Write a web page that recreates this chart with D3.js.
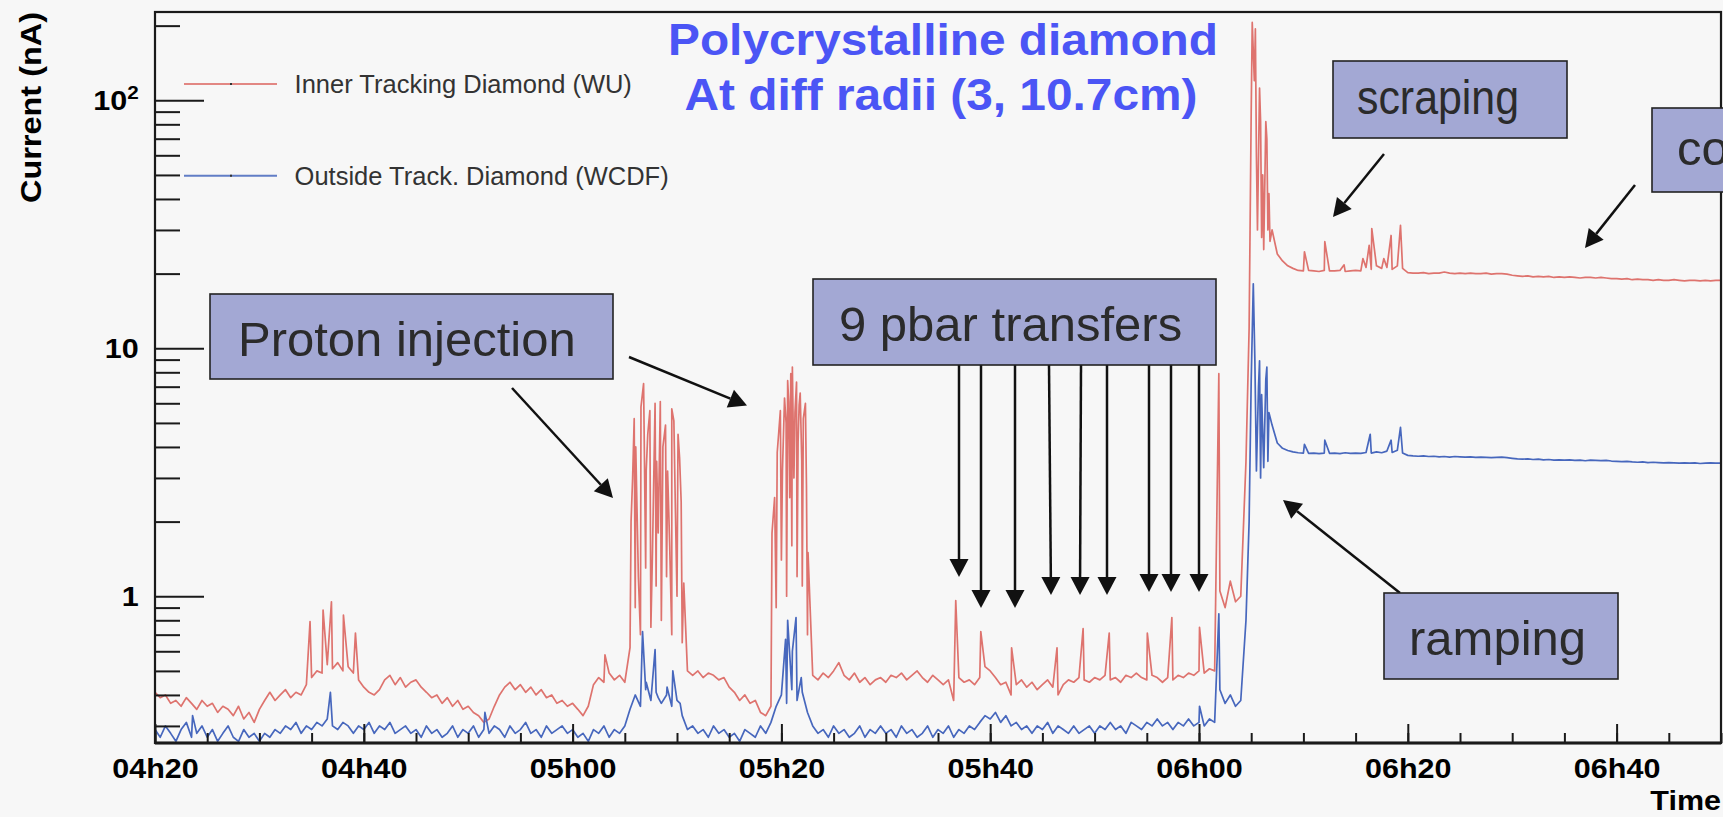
<!DOCTYPE html>
<html>
<head>
<meta charset="utf-8">
<script src="https://cdn.jsdelivr.net/npm/d3@7"></script>
<style>
  html, body { margin: 0; padding: 0; background: #f7f7f7; overflow: hidden; }
  svg { display: block; }
</style>
</head>
<body>
<div id="chart"></div>
<script>
// readings every half minute from 04h20, current in nA
var timeRange = ['04h20', '06h50'];
var timeLabels = ['04h20', '04h40', '05h00', '05h20', '05h40', '06h00', '06h20', '06h40'];
var stepMinutes = 0.5;

var currentRange = [0.256, 227];
var currentTicks = [1, 10, 100];
var currentLabels = ['1', '10', '10^2'];

var seriesNames = ['Inner Tracking Diamond (WU)', 'Outside Track. Diamond (WCDF)'];
var titleLines = ['Polycrystalline diamond', 'At diff radii (3, 10.7cm)'];

var wuLevels = [
  0.41,0.39,0.40,0.37,0.38,0.36,0.39,0.37,0.35,0.38,0.36,0.37,0.34,0.36,0.35,0.33,0.36,0.32,0.34,0.31,
  0.35,0.38,0.41,0.38,0.40,0.42,0.39,0.41,0.40,0.44,0.47,0.50,0.49,0.53,0.51,0.54,0.50,0.52,0.49,0.46,
  0.43,0.41,0.40,0.42,0.46,0.48,0.44,0.47,0.43,0.45,0.46,0.43,0.41,0.39,0.40,0.37,0.39,0.36,0.38,0.35,
  0.36,0.34,0.33,0.31,0.32,0.36,0.40,0.43,0.45,0.42,0.44,0.41,0.43,0.40,0.42,0.39,0.40,0.37,0.38,0.36,
  0.37,0.35,0.33,0.36,0.44,0.47,0.45,0.49,0.46,0.48,0.45,0.62,0.90,0.70,1.30,0.75,1.10,0.80,1.20,0.70,
  1.00,0.65,0.50,0.48,0.50,0.47,0.49,0.48,0.46,0.47,0.43,0.41,0.38,0.40,0.37,0.38,0.34,0.33,0.36,0.90,
  1.40,1.00,1.60,1.20,1.10,0.70,0.48,0.46,0.49,0.47,0.50,0.54,0.48,0.46,0.49,0.45,0.47,0.44,0.46,0.47,
  0.45,0.48,0.47,0.49,0.46,0.48,0.50,0.47,0.45,0.48,0.46,0.44,0.46,0.38,0.47,0.45,0.46,0.44,0.47,0.52,
  0.50,0.47,0.44,0.45,0.40,0.44,0.46,0.43,0.45,0.42,0.44,0.46,0.43,0.40,0.44,0.46,0.45,0.47,0.46,0.45,
  0.47,0.46,0.48,0.46,0.47,0.45,0.48,0.47,0.49,0.47,0.46,0.48,0.47,0.45,0.47,0.46,0.48,0.47,0.49,0.48,
  0.50,0.49,0.51,0.50,1.05,0.90,1.15,0.95,1.00,3.50,90,60,28,70,30,24,22.5,21.5,21.0,20.6,
  20.5,20.6,20.5,20.4,20.6,20.5,20.5,20.6,20.4,20.5,20.6,20.5,21.2,20.8,21.5,21.0,21.2,20.8,21.5,21.0,
  20.2,20.1,20.1,20.2,20.0,20.1,20.1,20.3,20.1,20.0,20.1,20.0,20.1,20.0,20.0,20.1,19.9,20.0,20.0,19.9,
  19.7,19.6,19.5,19.6,19.4,19.5,19.4,19.5,19.3,19.4,19.3,19.4,19.3,19.2,19.3,19.3,19.2,19.3,19.2,19.1,
  19.1,19.0,19.1,18.9,19.0,18.9,18.9,18.8,18.9,18.8,18.8,18.9,18.8,18.7,18.8,18.8,18.7,18.8,18.7,18.8,
  18.8
];

var wcdfLevels = [
  0.29,0.27,0.30,0.28,0.26,0.29,0.31,0.27,0.28,0.30,0.27,0.29,0.26,0.28,0.30,0.27,0.26,0.29,0.27,0.28,
  0.26,0.28,0.27,0.29,0.28,0.30,0.29,0.31,0.28,0.30,0.29,0.31,0.30,0.32,0.30,0.29,0.31,0.30,0.28,0.30,
  0.29,0.31,0.28,0.30,0.29,0.31,0.28,0.29,0.30,0.28,0.29,0.27,0.30,0.28,0.29,0.27,0.28,0.30,0.27,0.29,
  0.28,0.30,0.27,0.29,0.28,0.30,0.29,0.27,0.30,0.28,0.29,0.31,0.28,0.29,0.27,0.30,0.28,0.29,0.30,0.28,
  0.29,0.27,0.28,0.26,0.29,0.28,0.30,0.27,0.29,0.28,0.30,0.35,0.40,0.36,0.42,0.38,0.41,0.37,0.40,0.36,
  0.38,0.33,0.29,0.30,0.28,0.29,0.27,0.30,0.28,0.29,0.27,0.28,0.26,0.29,0.28,0.27,0.30,0.28,0.31,0.36,
  0.40,0.37,0.42,0.38,0.41,0.34,0.30,0.28,0.29,0.27,0.30,0.28,0.29,0.27,0.28,0.30,0.27,0.29,0.28,0.30,
  0.28,0.29,0.27,0.30,0.28,0.29,0.27,0.28,0.30,0.27,0.29,0.28,0.30,0.27,0.29,0.28,0.30,0.29,0.31,0.33,
  0.32,0.34,0.31,0.33,0.30,0.31,0.29,0.30,0.28,0.30,0.29,0.31,0.28,0.30,0.29,0.28,0.30,0.28,0.29,0.30,
  0.28,0.30,0.29,0.31,0.29,0.30,0.28,0.31,0.30,0.29,0.31,0.30,0.32,0.30,0.31,0.29,0.31,0.30,0.32,0.30,
  0.31,0.30,0.32,0.31,0.42,0.37,0.40,0.36,0.38,0.80,7.4,3.2,6.5,8.4,4.9,4.15,3.95,3.87,3.82,3.79,
  3.78,3.77,3.78,3.76,3.78,3.77,3.78,3.76,3.79,3.77,3.78,3.77,3.80,3.78,3.82,3.79,3.85,3.80,3.88,3.78,
  3.70,3.68,3.67,3.68,3.66,3.67,3.65,3.66,3.64,3.66,3.65,3.64,3.65,3.63,3.64,3.63,3.62,3.63,3.64,3.62,
  3.60,3.58,3.57,3.58,3.56,3.57,3.55,3.56,3.54,3.55,3.54,3.55,3.53,3.54,3.52,3.54,3.53,3.52,3.53,3.51,
  3.50,3.49,3.50,3.48,3.47,3.48,3.46,3.47,3.46,3.45,3.46,3.45,3.44,3.45,3.44,3.45,3.43,3.44,3.45,3.44,
  3.44
];

// short spikes between the half-minute readings: [minutes after 04h20, nA]
var wuSpikes = [
  [14.85,0.79],[16.1,0.88],[16.9,0.95],[18.05,0.84],[19.2,0.71],[43.1,0.58],
  [45.6,2.0],[45.75,3.0],[45.9,5.2],[46.05,4.0],[46.3,1.2],[46.55,5.8],[46.8,7.2],[47.05,3.2],[47.2,4.5],
  [47.4,5.6],[47.65,1.5],[47.9,6.0],[48.05,3.5],[48.2,1.8],[48.4,6.1],[48.65,4.0],[48.9,4.9],[49.1,3.2],
  [49.3,1.6],[49.5,5.7],[49.7,5.1],[49.85,2.2],[50.1,4.5],[50.25,3.6],[50.4,2.4],[50.65,1.13],
  [59.1,1.8],[59.35,2.5],[59.6,3.8],[59.75,4.6],[59.9,5.6],[60.1,3.2],[60.3,6.3],[60.45,5.0],[60.6,7.4],
  [60.7,6.1],[60.8,2.5],[60.9,7.9],[61.05,8.4],[61.2,3.0],[61.3,5.5],[61.45,7.3],[61.6,4.2],[61.7,5.9],
  [61.8,6.6],[61.95,3.5],[62.1,5.2],[62.3,6.0],[62.4,2.8],[62.55,1.5],
  [76.7,0.96],[79.1,0.72],[82.05,0.62],[86.4,0.62],[88.9,0.74],[91.4,0.71],[95.05,0.71],[97.4,0.82],[100.05,0.75],
  [101.9,7.9],[104.8,12],[105.1,206],[105.3,120],[105.4,194],[105.6,30],[105.8,112],[105.9,82],[106.1,50],
  [106.2,25],[106.4,82],[106.6,30],[106.7,42],[106.8,27],
  [110.1,24.5],[112.05,26.9],[113.9,21.7],[115.7,23],[116.3,26],[116.55,30.4],[117.7,23],[118.4,28.5],
  [119.3,31.3],[119.4,25.7]
];

var wcdfSpikes = [
  [3.6,0.33],[16.8,0.41],[31.6,0.34],
  [46.7,0.72],[47.05,0.45],[47.9,0.61],[48.2,0.39],[49.05,0.43],[49.6,0.50],[50.3,0.37],
  [60.4,0.67],[60.6,0.80],[61.05,0.60],[61.4,0.82],[61.9,0.47],
  [100.05,0.36],
  [101.9,0.85],[104.8,2.0],[105.2,18.2],[105.35,9.0],[105.7,7.0],[105.8,8.9],[105.9,3.0],[106.2,3.3],
  [106.4,7.5],[106.6,3.5],[106.7,5.5],
  [110.1,4.1],[112.05,4.26],[116.4,4.5],[118.4,4.26],[119.3,4.8]
];

(function(d3) {

  'use strict';

  var parseTime = d3.timeParse('%Hh%M');

  var Chart = function(element) {
    this.element = element;
    this.width = 1723;
    this.height = 817;
    this.plot = { left: 155, right: 1721, top: 12, bottom: 743 };
    this.font = 'Liberation Sans, Arial, Helvetica, sans-serif';
    this.colors = ['#de736e', '#4767bd'];
    this.stretch = 'scale(1.09,1)';
    this.svg = null;
  };

  Chart.prototype = {

    init: function() {
      this.setSvg();
      this.setScales();
      this.drawSeries();
      this.drawAxes();
      this.drawFrame();
      this.drawLegend();
      this.drawTitle();
      this.drawNotes();
    },

    setSvg: function() {
      this.svg = d3.select(this.element)
        .append('svg')
        .attr('width', this.width)
        .attr('height', this.height)
        .style('font-family', this.font);
    },

    setScales: function() {
      this.t0 = parseTime(timeRange[0]);
      this.x = d3.scaleTime()
        .domain([this.t0, parseTime(timeRange[1])])
        .range([this.plot.left, this.plot.right]);
      this.y = d3.scaleLog()
        .domain(currentRange)
        .range([this.plot.bottom, this.plot.top]);
    },

    toDate: function(minutes) {
      return new Date(this.t0.getTime() + minutes * 60000);
    },

    buildSeries: function(levels, spikes) {
      var pts = levels.map(function(v, i) {
        return { t: i * stepMinutes, v: v };
      });
      spikes.forEach(function(s) {
        pts.push({ t: s[0], v: s[1] });
      });
      return pts.sort(function(a, b) { return a.t - b.t; });
    },

    drawSeries: function() {
      var p = this.plot;
      this.svg.append('clipPath').attr('id', 'plot-clip')
        .append('rect')
        .attr('x', p.left).attr('y', p.top)
        .attr('width', p.right - p.left).attr('height', p.bottom - p.top);

      var line = d3.line()
        .x(function(d) { return this.x(this.toDate(d.t)); }.bind(this))
        .y(function(d) { return this.y(Math.max(d.v, 0.2)); }.bind(this));

      var series = [
        this.buildSeries(wuLevels, wuSpikes),
        this.buildSeries(wcdfLevels, wcdfSpikes)
      ];

      this.svg.append('g')
        .attr('clip-path', 'url(#plot-clip)')
        .selectAll('path')
        .data(series)
        .enter()
        .append('path')
        .attr('d', line)
        .attr('fill', 'none')
        .attr('stroke', function(d, i) { return this.colors[i]; }.bind(this))
        .attr('stroke-width', 1.7)
        .attr('stroke-linejoin', 'round');
    },

    drawAxes: function() {
      var p = this.plot;

      var xMinor = d3.axisBottom(this.x)
        .ticks(d3.timeMinute.every(5))
        .tickSizeInner(-10).tickSizeOuter(0)
        .tickFormat('');
      var xMajor = d3.axisBottom(this.x)
        .tickValues(timeLabels.map(parseTime))
        .tickFormat(d3.timeFormat('%Hh%M'))
        .tickSizeInner(-19).tickSizeOuter(0)
        .tickPadding(15);

      [xMinor, xMajor].forEach(function(axis) {
        var g = this.svg.append('g')
          .attr('transform', 'translate(0,' + p.bottom + ')')
          .call(axis);
        this.styleAxis(g);
      }.bind(this));

      var minors = this.y.ticks().filter(function(v) {
        return currentTicks.indexOf(v) === -1;
      });
      var yMinor = d3.axisLeft(this.y)
        .tickValues(minors)
        .tickSizeInner(-25).tickSizeOuter(0)
        .tickFormat('');
      var yMajor = d3.axisLeft(this.y)
        .tickValues(currentTicks)
        .tickSizeInner(-49).tickSizeOuter(0)
        .tickPadding(15)
        .tickFormat(function(d, i) { return currentLabels[i]; });

      [yMinor, yMajor].forEach(function(axis) {
        var g = this.svg.append('g')
          .attr('transform', 'translate(' + p.left + ',0)')
          .call(axis);
        this.styleAxis(g);
      }.bind(this));

      // powers of ten written as base and raised exponent
      this.svg.selectAll('.tick text').each(function() {
        var t = d3.select(this);
        var parts = t.text().split('^');
        if (parts.length < 2) return;
        t.text(null);
        t.append('tspan').text(parts[0]);
        t.append('tspan').attr('dy', -11).attr('font-size', 19).text(parts[1]);
      });

      this.svg.append('text')
        .attr('transform', 'translate(' + (p.right) + ',810) ' + this.stretch)
        .attr('text-anchor', 'end')
        .attr('font-size', 28)
        .attr('font-weight', 'bold')
        .text('Time');

      this.svg.append('text')
        .attr('transform', 'translate(41,' + p.top + ') rotate(-90)')
        .attr('text-anchor', 'end')
        .attr('font-size', 30)
        .attr('font-weight', 'bold')
        .attr('textLength', 191)
        .attr('lengthAdjust', 'spacingAndGlyphs')
        .text('Current (nA)');
    },

    styleAxis: function(g) {
      g.select('.domain').remove();
      g.attr('font-family', this.font).attr('font-size', 28).attr('font-weight', 'bold');
      g.selectAll('.tick line').attr('stroke', '#1a1a1a').attr('stroke-width', 2);
      g.selectAll('.tick text')
        .attr('fill', '#000')
        .attr('transform', this.stretch);
    },

    drawFrame: function() {
      var p = this.plot;
      this.svg.append('rect')
        .attr('x', p.left).attr('y', p.top)
        .attr('width', p.right - p.left).attr('height', p.bottom - p.top)
        .attr('fill', 'none')
        .attr('stroke', '#1a1a1a')
        .attr('stroke-width', 2.2);
      this.svg.append('line')
        .attr('x1', p.left).attr('x2', p.right)
        .attr('y1', p.bottom).attr('y2', p.bottom)
        .attr('stroke', '#1a1a1a')
        .attr('stroke-width', 3);
    },

    drawLegend: function() {
      var items = this.svg.append('g').selectAll('g')
        .data(seriesNames)
        .enter()
        .append('g')
        .attr('transform', function(d, i) { return 'translate(0,' + (84 + i * 91.7) + ')'; });

      items.append('line')
        .attr('x1', 184).attr('x2', 277)
        .attr('stroke', function(d, i) { return this.colors[i]; }.bind(this))
        .attr('stroke-opacity', 0.85)
        .attr('stroke-width', 2);
      items.append('rect')
        .attr('x', 230).attr('y', -1).attr('width', 2).attr('height', 2)
        .attr('fill', '#333');
      items.append('text')
        .attr('x', 294.6).attr('y', 9)
        .attr('font-size', 25.5)
        .attr('fill', '#333')
        .text(function(d) { return d; });
    },

    drawTitle: function() {
      var layout = [
        { x: 943, y: 55, len: 550 },
        { x: 941, y: 110, len: 513 }
      ];
      this.svg.append('g').selectAll('text')
        .data(titleLines)
        .enter()
        .append('text')
        .attr('x', function(d, i) { return layout[i].x; })
        .attr('y', function(d, i) { return layout[i].y; })
        .attr('textLength', function(d, i) { return layout[i].len; })
        .attr('lengthAdjust', 'spacingAndGlyphs')
        .attr('text-anchor', 'middle')
        .attr('font-size', 44)
        .attr('font-weight', 'bold')
        .attr('fill', '#4b55f5')
        .text(function(d) { return d; });
    },

    drawNotes: function() {
      var notes = [
        { text: 'Proton injection', box: [210, 294, 403, 85], tx: 238, ty: 356 },
        { text: '9 pbar transfers', box: [813, 279, 403, 86], tx: 839, ty: 341 },
        { text: 'scraping', box: [1333, 61, 234, 77], tx: 1357, ty: 114, len: 162 },
        { text: 'co', box: [1652, 108, 260, 84], tx: 1677, ty: 165 },
        { text: 'ramping', box: [1384, 593, 234, 86], tx: 1409, ty: 655 }
      ];
      var arrows = [
        [512, 388, 613, 498], [629, 357, 747, 405.5],
        [959, 365, 959, 577], [981, 365, 981, 608], [1015, 365, 1015, 608],
        [1049, 365, 1051, 595], [1081, 365, 1080, 595], [1107, 365, 1107, 595],
        [1149, 365, 1149, 592], [1171, 365, 1171, 592], [1199, 365, 1199, 592],
        [1384, 154, 1333, 217], [1635, 185, 1585, 248], [1400, 593, 1283, 500]
      ];

      var g = this.svg.append('g');
      arrows.forEach(function(a) { this.drawArrow(g, a); }.bind(this));

      notes.forEach(function(n) {
        g.append('rect')
          .attr('x', n.box[0]).attr('y', n.box[1])
          .attr('width', n.box[2]).attr('height', n.box[3])
          .attr('fill', '#a3a8d4')
          .attr('stroke', '#222')
          .attr('stroke-width', 1.6);
        var t = g.append('text')
          .attr('x', n.tx).attr('y', n.ty)
          .attr('font-size', 49)
          .attr('fill', '#2b2b2b')
          .text(n.text);
        if (n.len) t.attr('textLength', n.len).attr('lengthAdjust', 'spacingAndGlyphs');
      });
    },

    drawArrow: function(g, a) {
      var dx = a[2] - a[0], dy = a[3] - a[1];
      var len = Math.sqrt(dx * dx + dy * dy);
      var ux = dx / len, uy = dy / len;
      var hl = 18, hw = 9.5;
      var bx = a[2] - ux * hl, by = a[3] - uy * hl;
      g.append('line')
        .attr('x1', a[0]).attr('y1', a[1])
        .attr('x2', bx).attr('y2', by)
        .attr('stroke', '#111')
        .attr('stroke-width', 2.5);
      g.append('path')
        .attr('d', 'M' + a[2] + ',' + a[3] +
          'L' + (bx - uy * hw) + ',' + (by + ux * hw) +
          'L' + (bx + uy * hw) + ',' + (by - ux * hw) + 'Z')
        .attr('fill', '#111');
    }

  };

  var app = new Chart('#chart');
  app.init();

})(d3);
</script>
</body>
</html>
